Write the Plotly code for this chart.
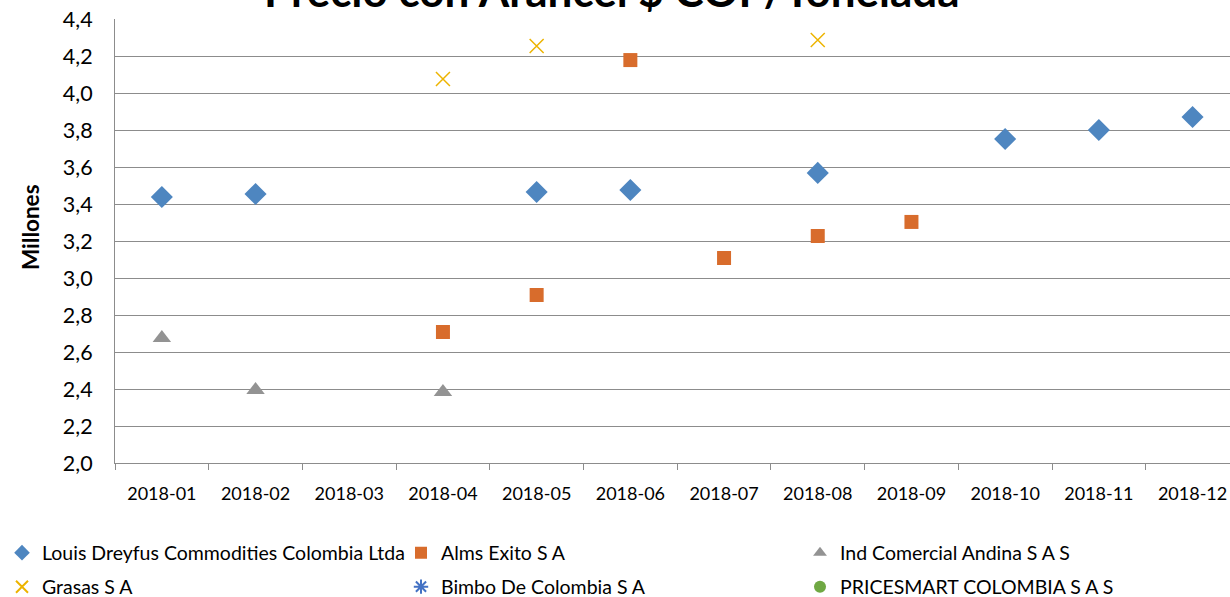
import plotly.graph_objects as go

months = ["2018-01", "2018-02", "2018-03", "2018-04", "2018-05", "2018-06",
          "2018-07", "2018-08", "2018-09", "2018-10", "2018-11", "2018-12"]

louis = [3.438, 3.454, None, None, 3.465, 3.476, None, 3.568, None, 3.751, 3.800, 3.870]
alms = [None, None, None, 2.708, 2.908, 4.178, 3.108, 3.227, 3.303, None, None, None]
ind_andina = [2.676, 2.395, None, 2.384, None, None, None, None, None, None, None, None]
grasas = [None, None, None, 4.076, 4.254, None, None, 4.286, None, None, None, None]
bimbo = [None] * 12
pricesmart = [None] * 12

FONT = "Lato"
W, H = 1230, 597
ML, MT, MB = 115, 19, 134
PW = W - ML
PH = H - MT - MB

series = [
    ("Louis Dreyfus Commodities Colombia Ltda", louis, "diamond", "#4E86C0", 17, "legend"),
    ("Alms Exito S A", alms, "square", "#D86C2C", 14, "legend"),
    ("Ind Comercial Andina S A S", ind_andina, "triangle-up", "#939393", 16, "legend"),
    ("Grasas S A", grasas, "x-thin", "#EDB400", 14, "legend2"),
    ("Bimbo De Colombia S A", bimbo, "asterisk-open", "#4472C4", 12, "legend2"),
    ("PRICESMART COLOMBIA S A S", pricesmart, "circle", "#6FA843", 12, "legend2"),
]

fig = go.Figure()
for name, vals, sym, col, size, lg in series:
    marker = dict(symbol=sym, color=col, size=size)
    if sym in ("x-thin", "asterisk-open"):
        marker["line"] = dict(color=col, width=1.5)
    fig.add_trace(go.Scatter(x=months, y=vals, mode="markers", name=name,
                             marker=marker, legend=lg, cliponaxis=False))

lx = (2 - ML) / PW
legend_common = dict(orientation="h", entrywidth=354, entrywidthmode="pixels",
                     font=dict(family=FONT, size=19.5, color="#000000"),
                     itemsizing="constant", bgcolor="rgba(0,0,0,0)",
                     xanchor="left", yanchor="middle", x=lx, tracegroupgap=0)

fig.update_layout(
    width=W, height=H,
    margin=dict(l=ML, r=0, t=MT, b=MB, autoexpand=False),
    paper_bgcolor="white", plot_bgcolor="white",
    separators=",.",
    font=dict(family=FONT, color="#000000"),
    showlegend=True,
    legend=dict(legend_common, y=(MT + PH - 553) / PH),
    legend2=dict(legend_common, y=(MT + PH - 587) / PH),
    xaxis=dict(type="category", categoryorder="array", categoryarray=months,
               range=[-0.5, -0.5 + PW / 93.7], showgrid=False,
               showline=True, linecolor="#8C8C8C", linewidth=1,
               ticks="outside", tickson="boundaries", ticklen=6, tickcolor="#8C8C8C",
               tickfont=dict(family=FONT, size=18, color="#000000"),
               ticklabelstandoff=14, zeroline=False, fixedrange=True),
    yaxis=dict(range=[2.0, 4.4], dtick=0.2, tick0=2.0, tickformat=".1f",
               showgrid=True, gridcolor="#8C8C8C", gridwidth=1,
               showline=True, linecolor="#8C8C8C", linewidth=1,
               ticks="", tickfont=dict(family=FONT, size=21.5, color="#000000"),
               ticklabelstandoff=17, zeroline=False, fixedrange=True),
    annotations=[
        dict(text="<b>Precio con Arancel $ COP/Tonelada</b>",
             xref="paper", yref="paper", x=(612 - ML) / PW, y=1 + (MT + 10) / PH,
             xanchor="center", yanchor="middle", showarrow=False,
             font=dict(family=FONT, size=44, color="#000000")),
        dict(text="<b>Millones</b>", textangle=-90,
             xref="paper", yref="paper", x=(30 - ML) / PW, y=(MT + PH - 227) / PH,
             xanchor="center", yanchor="middle", showarrow=False,
             font=dict(family=FONT, size=22.5, color="#000000")),
    ],
)

fig.write_html("out.html", config={"displayModeBar": False},
               post_script="document.body.style.margin='0px';document.body.style.padding='0px';")
